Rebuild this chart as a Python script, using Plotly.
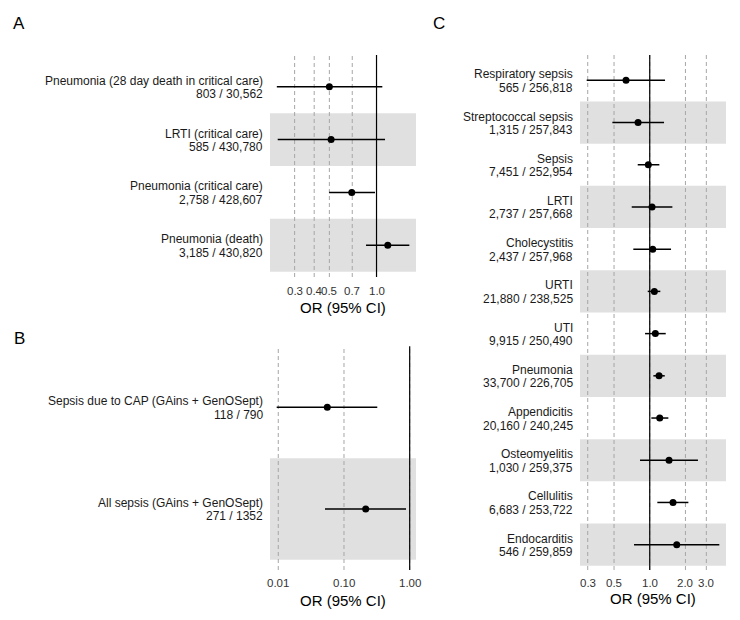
import math
import plotly.graph_objects as go

# ---------------- data ----------------
# Panel A
a_names = ["Pneumonia (28 day death in critical care)", "LRTI (critical care)",
           "Pneumonia (critical care)", "Pneumonia (death)"]
a_counts = ["803 / 30,562", "585 / 430,780", "2,758 / 428,607", "3,185 / 430,820"]
a_or = [0.50, 0.513, 0.695, 1.18]
a_lo = [0.231, 0.234, 0.498, 0.857]
a_hi = [1.089, 1.133, 0.978, 1.62]
a_ticks = [0.3, 0.4, 0.5, 0.7, 1.0]
a_ticktext = ["0.3", "0.4", "0.5", "0.7", "1.0"]

# Panel B
b_names = ["Sepsis due to CAP (GAins + GenOSept)", "All sepsis (GAins + GenOSept)"]
b_counts = ["118 / 790", "271 / 1352"]
b_or = [0.0557, 0.214]
b_lo = [0.00946, 0.0514]
b_hi = [0.321, 0.879]
b_ticks = [0.01, 0.10, 1.00]
b_ticktext = ["0.01", "0.10", "1.00"]

# Panel C
c_names = ["Respiratory sepsis", "Streptococcal sepsis", "Sepsis", "LRTI", "Cholecystitis",
           "URTI", "UTI", "Pneumonia", "Appendicitis", "Osteomyelitis", "Cellulitis",
           "Endocarditis"]
c_counts = ["565 / 256,818", "1,315 / 257,843", "7,451 / 252,954", "2,737 / 257,668",
            "2,437 / 257,968", "21,880 / 238,525", "9,915 / 250,490", "33,700 / 226,705",
            "20,160 / 240,245", "1,030 / 259,375", "6,683 / 253,722", "546 / 259,859"]
c_or = [0.631, 0.797, 0.973, 1.046, 1.06, 1.094, 1.115, 1.198, 1.214, 1.455, 1.571, 1.689]
c_lo = [0.294, 0.484, 0.792, 0.705, 0.727, 0.962, 0.913, 1.073, 1.032, 0.828, 1.159, 0.737]
c_hi = [1.346, 1.32, 1.205, 1.552, 1.512, 1.228, 1.364, 1.338, 1.435, 2.55, 2.117, 3.86]
c_ticks = [0.3, 0.5, 1.0, 2.0, 3.0]
c_ticktext = ["0.3", "0.5", "1.0", "2.0", "3.0"]

axis_title = "OR (95% CI)"
ref_value = 1.0

# ---------------- layout helpers ----------------
W, H = 740, 620
FONT = "Liberation Sans, Arial, Helvetica, sans-serif"
BAND = "#e0e0e0"
GRID = "#a6a6a6"


def px(x):
    return x / W


def py(y):
    return 1 - y / H


panels = [
    dict(names=a_names, counts=a_counts, orv=a_or, lo=a_lo, hi=a_hi, ticks=a_ticks,
         ticktext=a_ticktext, xr=[-0.680, 0.252], xdom=[270, 416], ydom=[55, 277],
         lab_x=265, letter="A", letter_xy=(19, 23), title_y=307.5, tick_y=291, sfx=""),
    dict(names=b_names, counts=b_counts, orv=b_or, lo=b_lo, hi=b_hi, ticks=b_ticks,
         ticktext=b_ticktext, xr=[-2.126, 0.096], xdom=[270, 416], ydom=[346.3, 570],
         lab_x=265, letter="B", letter_xy=(19.5, 338), title_y=600, tick_y=582.5, sfx="2"),
    dict(names=c_names, counts=c_counts, orv=c_or, lo=c_lo, hi=c_hi, ticks=c_ticks,
         ticktext=c_ticktext, xr=[-0.588, 0.643], xdom=[580, 726], ydom=[55, 570],
         lab_x=575.3, letter="C", letter_xy=(439, 24), title_y=598.5, tick_y=583, sfx="3"),
]

fig = go.Figure()
shapes = []
annotations = []
layout_axes = {}

for p in panels:
    n = len(p["names"])
    rows = list(range(1, n + 1))
    xa = "x" + p["sfx"]
    ya = "y" + p["sfx"]
    xkey = "xaxis" + p["sfx"]
    ykey = "yaxis" + p["sfx"]

    # alternating bands (even rows)
    for r in rows:
        if r % 2 == 0:
            shapes.append(dict(type="rect", xref=xa + " domain", yref=ya,
                               x0=0, x1=1, y0=r - 0.5, y1=r + 0.5,
                               fillcolor=BAND, line_width=0, layer="below"))
    # dashed gridlines at tick values
    for t in p["ticks"]:
        shapes.append(dict(type="line", xref=xa, yref=ya + " domain", x0=t, x1=t,
                           y0=0, y1=1, line=dict(color=GRID, width=1, dash="4px,3px"),
                           layer="below"))
    # reference line at OR = 1
    shapes.append(dict(type="line", xref=xa, yref=ya + " domain", x0=ref_value,
                       x1=ref_value, y0=0, y1=1,
                       line=dict(color="black", width=1.2), layer="below"))

    fig.add_trace(go.Scatter(
        x=p["orv"], y=rows, mode="markers", xaxis=xa, yaxis=ya,
        marker=dict(color="black", size=7),
        error_x=dict(type="data", symmetric=False,
                     array=[h - o for h, o in zip(p["hi"], p["orv"])],
                     arrayminus=[o - l for o, l in zip(p["orv"], p["lo"])],
                     color="black", thickness=1.5, width=0),
        showlegend=False, hoverinfo="skip", cliponaxis=False))

    layout_axes[xkey] = dict(
        domain=[px(p["xdom"][0]), px(p["xdom"][1])], anchor=ya, type="log",
        range=p["xr"], showticklabels=False, showgrid=False,
        zeroline=False, showline=False, ticks="")
    layout_axes[ykey] = dict(
        domain=[py(p["ydom"][1]), py(p["ydom"][0])], anchor=xa,
        range=[n + 0.6, 0.4], showgrid=False, zeroline=False,
        showticklabels=False, ticks="", showline=False)

    # tick labels placed through the log x axis (annotation x is log10 on log axes)
    for t, tt in zip(p["ticks"], p["ticktext"]):
        annotations.append(dict(text=tt, x=math.log10(t), xref=xa, y=py(p["tick_y"]),
                                yref="paper", xanchor="center", yanchor="middle",
                                showarrow=False,
                                font=dict(family=FONT, size=11.5, color="#333333")))

    for r, nm, ct in zip(rows, p["names"], p["counts"]):
        annotations.append(dict(text=nm, x=px(p["lab_x"]), xref="paper", y=r, yref=ya,
                                xanchor="right", yanchor="middle", yshift=6,
                                showarrow=False,
                                font=dict(family=FONT, size=12, color="#1a1a1a")))
        annotations.append(dict(text=ct, x=px(p["lab_x"]), xref="paper", y=r, yref=ya,
                                xanchor="right", yanchor="middle", yshift=-7.5,
                                showarrow=False,
                                font=dict(family=FONT, size=12, color="#1a1a1a")))
    # axis title
    annotations.append(dict(text=axis_title, x=px((p["xdom"][0] + p["xdom"][1]) / 2),
                            xref="paper", y=py(p["title_y"]), yref="paper",
                            xanchor="center", yanchor="middle", showarrow=False,
                            font=dict(family=FONT, size=15, color="black")))
    # panel letter
    annotations.append(dict(text=p["letter"], x=px(p["letter_xy"][0]), xref="paper",
                            y=py(p["letter_xy"][1]), yref="paper", xanchor="center",
                            yanchor="middle", showarrow=False,
                            font=dict(family=FONT, size=17, color="black")))

fig.update_layout(
    width=W, height=H, margin=dict(l=0, r=0, t=0, b=0),
    paper_bgcolor="white", plot_bgcolor="white",
    shapes=shapes, annotations=annotations, showlegend=False,
    **layout_axes)

fig.write_html("out.html",
               config={"displayModeBar": False, "staticPlot": True},
               post_script="document.body.style.margin='0px';"
                           "document.body.style.overflow='hidden';")
